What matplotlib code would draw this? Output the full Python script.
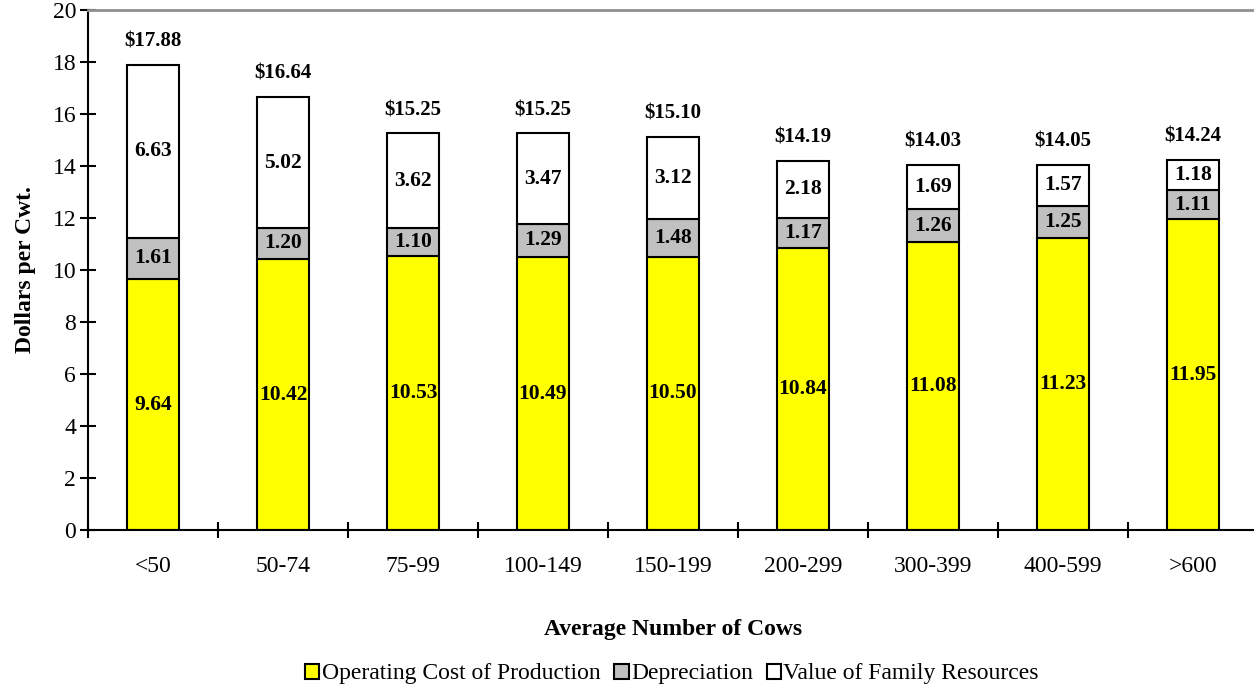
import numpy as np
import matplotlib.pyplot as plt
from matplotlib.patches import Patch

plt.rcParams["font.family"] = ["Liberation Serif", "DejaVu Serif"]

categories = ["<50", "50-74", "75-99", "100-149", "150-199", "200-299", "300-399", "400-599", ">600"]
operating = [9.64, 10.42, 10.53, 10.49, 10.50, 10.84, 11.08, 11.23, 11.95]
depreciation = [1.61, 1.20, 1.10, 1.29, 1.48, 1.17, 1.26, 1.25, 1.11]
family = [6.63, 5.02, 3.62, 3.47, 3.12, 2.18, 1.69, 1.57, 1.18]
totals = ["$17.88", "$16.64", "$15.25", "$15.25", "$15.10", "$14.19", "$14.03", "$14.05", "$14.24"]

series = [
    ("Operating Cost of Production", operating, "#ffff00"),
    ("Depreciation", depreciation, "#c0c0c0"),
    ("Value of Family Resources", family, "#ffffff"),
]

fig = plt.figure(figsize=(12.54, 6.9), dpi=100)
ax = fig.add_axes([88 / 1254, 160 / 690, 1170 / 1254, 520 / 690])

x = np.arange(len(categories))
bottom = np.zeros(len(categories))
for name, vals, color in series:
    vals = np.array(vals)
    ax.bar(x, vals, 0.4, bottom=bottom, color=color, edgecolor="black", linewidth=1.5, zorder=2)
    for xi, b, v in zip(x, bottom, vals):
        ax.text(xi, b + v / 2, f"{v:.2f}", ha="center", va="center",
                fontsize=15.5, fontweight="bold", zorder=3)
    bottom = bottom + vals

for xi, top, lab in zip(x, bottom, totals):
    ax.text(xi, top + 0.9, lab, ha="center", va="center", fontsize=15, fontweight="bold")

ax.set_xlim(-0.5, len(categories) - 0.5)
ax.set_ylim(0, 20)
ax.set_yticks(np.arange(0, 21, 2))
ax.set_xticks(np.arange(-0.5, len(categories) + 0.5, 1), minor=False)
ax.set_xticklabels([])
ax.set_xticks(x, minor=True)
ax.set_xticklabels(categories, minor=True)
ax.tick_params(axis="x", which="major", direction="inout", length=11, width=1.5)
ax.tick_params(axis="x", which="minor", length=0, pad=19, labelsize=17)
ax.tick_params(axis="y", direction="inout", length=11, width=1.5, labelsize=17, pad=3)

for s in ["left", "bottom"]:
    ax.spines[s].set_linewidth(1.5)
ax.spines["top"].set_color("#909090")
ax.spines["top"].set_linewidth(2)
ax.spines["right"].set_visible(False)

ax.set_ylabel("Dollars per Cwt.", fontsize=17, fontweight="bold", labelpad=12)
ax.set_xlabel("Average Number of Cows", fontsize=17, fontweight="bold", labelpad=30)

handles = [Patch(facecolor=c, edgecolor="black", linewidth=1.5, label=n) for n, _, c in series]
fig.legend(handles=handles, loc="center", bbox_to_anchor=(672 / 1254, 1 - 674 / 690),
           ncol=3, frameon=False, fontsize=17, handlelength=0.6, handleheight=0.6,
           handletextpad=0.1, columnspacing=0.6)

fig.savefig("out.png", dpi=100)
